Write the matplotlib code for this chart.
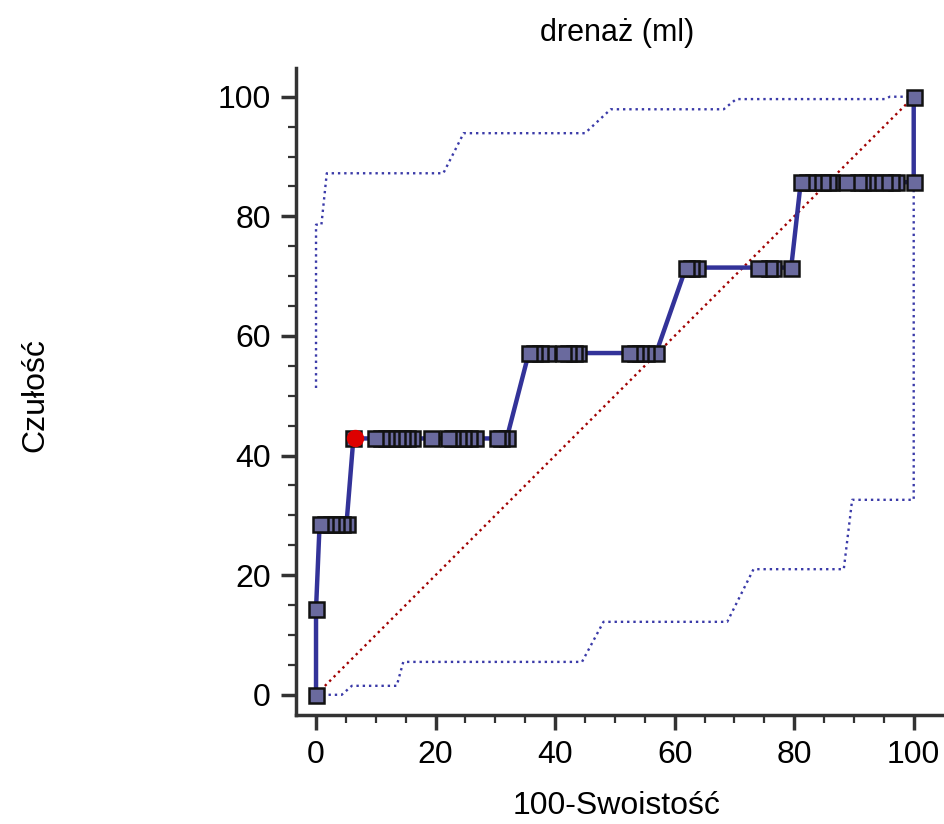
import matplotlib
matplotlib.use("Agg")
import matplotlib.pyplot as plt
from matplotlib.ticker import MultipleLocator

plt.rcParams['font.family'] = ['Liberation Sans', 'DejaVu Sans']

# ROC curve points: 100-Specificity (x) and Sensitivity (y)
roc_x = [0.0, 0.0,
         0.6, 1.5, 2.5, 3.3, 4.3, 5.1,
         6.25, 9.9, 10.8, 11.7, 12.6, 13.5, 14.4, 15.3, 16.1, 19.2,
         22.0, 22.8, 23.8, 24.6, 25.6, 26.6, 30.3, 31.0, 31.9,
         35.6, 36.5, 37.4, 38.7, 41.4, 42.2, 43.1, 43.9,
         52.4, 53.3, 54.2, 55.2, 56.9,
         61.9, 62.8, 63.7, 73.9, 75.8, 76.4, 79.5,
         81.1, 82.1, 83.1, 84.7, 85.7, 86.1, 88.6, 90.6, 91.4, 92.2,
         93.4, 95.1, 96.2, 97.0, 100.0,
         100.0]
roc_y = ([0.0, 14.29] + [28.57] * 6 + [42.86] * 19 + [57.14] * 13 +
         [71.43] * 7 + [85.71] * 15 + [100.0])

# Optimal criterion
opt_x = [6.5]
opt_y = [42.86]

# 95% confidence bounds
upper_x = [0.0, 0.0, 0.9, 1.8, 21.3, 24.7, 45.0, 49.3, 68.2, 70.3, 95.2, 96.0, 100.0]
upper_y = [51.3, 78.6, 78.6, 87.2, 87.2, 93.9, 93.9, 97.9, 97.9, 99.6, 99.6, 100.0, 100.0]
lower_x = [0.0, 4.3, 6.0, 13.5, 14.6, 44.5, 48.1, 68.8, 73.2, 88.3, 89.7, 100.0, 100.0]
lower_y = [0.0, 0.0, 1.5, 1.5, 5.5, 5.5, 12.2, 12.2, 21.0, 21.0, 32.6, 32.6, 85.71]

x_ticks = [0, 20, 40, 60, 80, 100]
y_ticks = [0, 20, 40, 60, 80, 100]

fig = plt.figure(figsize=(9.45, 8.24), dpi=100)
ax = fig.add_axes([296 / 945, 1 - 715 / 824, 647 / 945, 647 / 824])

ax.plot([0, 100], [0, 100], linestyle=':', color='#a00000', linewidth=1.7, zorder=1)
ax.plot(upper_x, upper_y, linestyle=':', color='#3a3aa8', linewidth=1.7, zorder=1)
ax.plot(lower_x, lower_y, linestyle=':', color='#3a3aa8', linewidth=1.7, zorder=1)
ax.plot(roc_x, roc_y, color='#333399', linewidth=3.2, zorder=2)
# draw right-to-left so that left markers sit on top
ax.plot(roc_x[::-1], roc_y[::-1], linestyle='none', marker='s', markersize=10.8,
        markerfacecolor='#6a6a9e', markeredgecolor='#111111', markeredgewidth=1.8, zorder=3)
ax.plot(opt_x, opt_y, linestyle='none', marker='o', markersize=11.5,
        markerfacecolor='#dd0000', markeredgecolor='#dd0000', zorder=4)

ax.set_xlim(-3.35, 104.9)
ax.set_ylim(-3.38, 104.8)

for side in ('top', 'right'):
    ax.spines[side].set_visible(False)
for side in ('left', 'bottom'):
    ax.spines[side].set_linewidth(2.5)
    ax.spines[side].set_color('#333333')

ax.set_xticks(x_ticks)
ax.set_yticks(y_ticks)
ax.xaxis.set_minor_locator(MultipleLocator(5))
ax.yaxis.set_minor_locator(MultipleLocator(5))
ax.tick_params(which='major', length=11, width=2.5, color='#333333',
               labelsize=23, pad=7)
ax.tick_params(which='minor', length=6, width=1.6, color='#333333')

fig.text(617 / 945, 1 - 33 / 824, 'drenaż (ml)', ha='center', va='center', fontsize=22)
fig.text(617 / 945, 1 - 806 / 824, '100-Swoistość', ha='center', va='center', fontsize=23)
fig.text(35 / 945, 1 - 395 / 824, 'Czułość', ha='center', va='center',
         rotation=90, fontsize=23)

fig.savefig('out.png', dpi=100)
